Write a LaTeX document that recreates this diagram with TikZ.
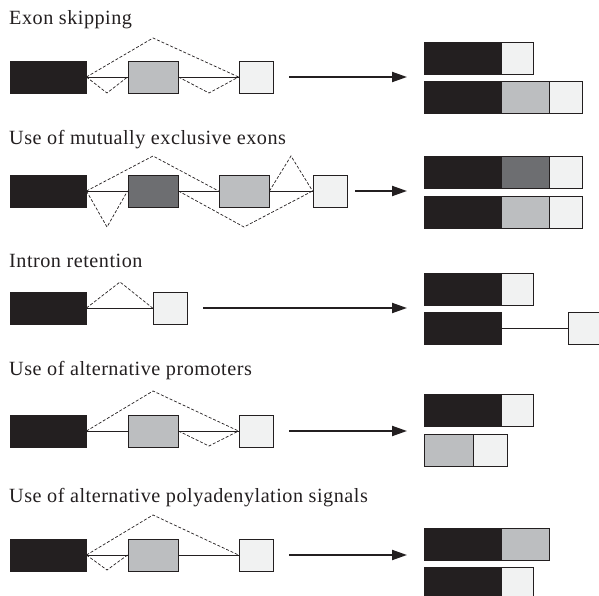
\documentclass[tikz,border=0pt]{standalone}
\usepackage{fontspec}
\newfontfamily\labelfont[LetterSpace=2.5]{Liberation Serif}
\usetikzlibrary{arrows.meta}
\definecolor{exblack}{HTML}{231F20}
\definecolor{exdark}{HTML}{6D6E71}
\definecolor{exgray}{HTML}{BCBEC0}
\definecolor{exlight}{HTML}{F1F2F2}
\begin{document}
\begin{tikzpicture}[x=1pt,y=-1pt,
  exon/.style={draw=exblack, line width=0.9pt, inner sep=0pt, minimum height=32pt},
  kx/.style={exon, fill=exblack},
  dx/.style={exon, fill=exdark},
  gx/.style={exon, fill=exgray},
  lx/.style={exon, fill=exlight},
  intron/.style={draw=exblack, line width=0.8pt},
  splice/.style={draw=exblack, line width=0.7pt, dash pattern=on 3pt off 1.8pt},
  result/.style={draw=exblack, line width=2pt, -{Triangle[length=15pt,width=10pt]}},
  title/.style={anchor=base west, inner sep=0pt, text=exblack, font=\labelfont\fontsize{20.2}{23}\selectfont}]
\useasboundingbox (0,0) rectangle (599,596);

% ---------- Exon skipping ----------
\node[title] (t1) at (9,25) {Exon skipping};
\node[kx, minimum width=76pt] (a1k) at (48,77) {};
\node[gx, minimum width=50pt] (a1g) at (153,77) {};
\node[lx, minimum width=34pt] (a1l) at (256,77) {};
\draw[intron] (a1k.east) -- (a1g.west);
\draw[intron] (a1g.east) -- (a1l.west);
\coordinate (a1top) at (153,38);
\coordinate (a1lo1) at (107,93);
\coordinate (a1lo2) at (209,93);
\draw[splice] (a1k.east) -- (a1top) -- (a1l.west);
\draw[splice] (a1k.east) -- (a1lo1) -- (a1g.west);
\draw[splice] (a1g.east) -- (a1lo2) -- (a1l.west);
\coordinate (a1s) at (289,77);
\coordinate (a1e) at (407,77);
\draw[result] (a1s) -- (a1e);
\node[kx, minimum width=77pt] (b1k) at (462.5,58) {};
\node[lx, minimum width=32pt] (b1l) at (517,58) {};
\node[kx, minimum width=77pt] (c1k) at (462.5,97) {};
\node[gx, minimum width=48pt] (c1g) at (525,97) {};
\node[lx, minimum width=33pt] (c1l) at (565.5,97) {};

% ---------- Mutually exclusive exons ----------
\node[title] (t2) at (9,145) {Use of mutually exclusive exons};
\node[kx, minimum width=76pt] (a2k) at (48,191) {};
\node[dx, minimum width=50pt] (a2d) at (153,191) {};
\node[gx, minimum width=50pt] (a2g) at (244,191) {};
\node[lx, minimum width=34pt] (a2l) at (330,191) {};
\draw[intron] (a2k.east) -- (a2d.west);
\draw[intron] (a2d.east) -- (a2g.west);
\draw[intron] (a2g.east) -- (a2l.west);
\coordinate (a2top) at (153,156);
\coordinate (a2tri) at (291,156);
\coordinate (a2lo1) at (107,227);
\coordinate (a2lo2) at (244,227);
\draw[splice] (a2k.east) -- (a2top) -- (a2g.west);
\draw[splice] (a2g.east) -- (a2tri) -- (a2l.west);
\draw[splice] (a2k.east) -- (a2lo1) -- (a2d.west);
\draw[splice] (a2d.east) -- (a2lo2) -- (a2l.west);
\coordinate (a2s) at (355,191);
\coordinate (a2e) at (407,191);
\draw[result] (a2s) -- (a2e);
\node[kx, minimum width=77pt] (b2k) at (462.5,172) {};
\node[dx, minimum width=48pt] (b2d) at (525,172) {};
\node[lx, minimum width=33pt] (b2l) at (565.5,172) {};
\node[kx, minimum width=77pt] (c2k) at (462.5,212) {};
\node[gx, minimum width=48pt] (c2g) at (525,212) {};
\node[lx, minimum width=33pt] (c2l) at (565.5,212) {};

% ---------- Intron retention ----------
\node[title] (t3) at (9,267) {Intron retention};
\node[kx, minimum width=76pt] (a3k) at (48,308) {};
\node[lx, minimum width=34pt] (a3l) at (170,308) {};
\draw[intron] (a3k.east) -- (a3l.west);
\coordinate (a3top) at (120,282);
\draw[splice] (a3k.east) -- (a3top) -- (a3l.west);
\coordinate (a3s) at (203,308);
\coordinate (a3e) at (407,308);
\draw[result] (a3s) -- (a3e);
\node[kx, minimum width=77pt] (b3k) at (462.5,289) {};
\node[lx, minimum width=32pt] (b3l) at (517,289) {};
\node[kx, minimum width=77pt] (c3k) at (462.5,328) {};
\node[lx, minimum width=32pt] (c3l) at (584,328) {};
\draw[intron] (c3k.east) -- (c3l.west);

% ---------- Alternative promoters ----------
\node[title] (t4) at (9,375) {Use of alternative promoters};
\node[kx, minimum width=76pt] (a4k) at (48,431) {};
\node[gx, minimum width=50pt] (a4g) at (153,431) {};
\node[lx, minimum width=34pt] (a4l) at (256,431) {};
\draw[intron] (a4k.east) -- (a4g.west);
\draw[intron] (a4g.east) -- (a4l.west);
\coordinate (a4top) at (153,391);
\coordinate (a4lo) at (209,446);
\draw[splice] (a4k.east) -- (a4top) -- (a4l.west);
\draw[splice] (a4g.east) -- (a4lo) -- (a4l.west);
\coordinate (a4s) at (289,431);
\coordinate (a4e) at (407,431);
\draw[result] (a4s) -- (a4e);
\node[kx, minimum width=77pt] (b4k) at (462.5,410) {};
\node[lx, minimum width=32pt] (b4l) at (517,410) {};
\node[gx, minimum width=49pt] (c4g) at (448.5,450) {};
\node[lx, minimum width=34pt] (c4l) at (490,450) {};

% ---------- Alternative polyadenylation ----------
\node[title] (t5) at (9,502) {Use of alternative polyadenylation signals};
\node[kx, minimum width=76pt] (a5k) at (48,555) {};
\node[gx, minimum width=50pt] (a5g) at (153,555) {};
\node[lx, minimum width=34pt] (a5l) at (256,555) {};
\draw[intron] (a5k.east) -- (a5g.west);
\draw[intron] (a5g.east) -- (a5l.west);
\coordinate (a5top) at (153,515);
\coordinate (a5lo) at (107,570);
\draw[splice] (a5k.east) -- (a5top) -- (a5l.west);
\draw[splice] (a5k.east) -- (a5lo) -- (a5g.west);
\coordinate (a5s) at (289,555);
\coordinate (a5e) at (407,555);
\draw[result] (a5s) -- (a5e);
\node[kx, minimum width=77pt] (b5k) at (462.5,544) {};
\node[gx, minimum width=48pt] (b5g) at (525,544) {};
\node[kx, minimum width=77pt] (c5k) at (462.5,583) {};
\node[lx, minimum width=32pt] (c5l) at (517,583) {};
\end{tikzpicture}
\end{document}
